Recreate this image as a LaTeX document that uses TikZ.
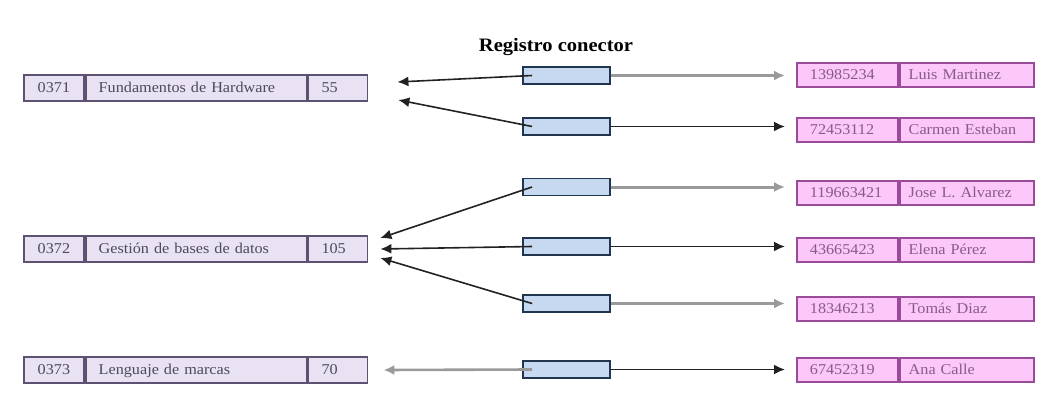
\documentclass[tikz,border=0pt]{standalone}
\usepackage{fontspec}
\setmainfont{Liberation Serif}[FakeStretch=1.08]
\usetikzlibrary{positioning,arrows.meta}

\definecolor{modfill}{HTML}{E8E2F2}
\definecolor{modline}{HTML}{5E5272}
\definecolor{modtext}{HTML}{4E4A5A}
\definecolor{alufill}{HTML}{FCC8FA}
\definecolor{aluline}{HTML}{9A4C9A}
\definecolor{alutext}{HTML}{8A5A8A}
\definecolor{confill}{HTML}{C6D9F1}
\definecolor{conline}{HTML}{1F3550}
\definecolor{grisl}{HTML}{9A9A9A}
\definecolor{grisd}{HTML}{222222}

\tikzset{
  cell/.style={draw, line width=1.8pt, minimum height=26pt, inner xsep=13pt, inner ysep=0pt,
    text height=10pt, text depth=1pt, font=\fontsize{15}{15}\selectfont, anchor=west},
  modcell/.style={cell, draw=modline, fill=modfill, text=modtext},
  alucell/.style={cell, minimum height=24pt, draw=aluline, fill=alufill, text=alutext},
  conbox/.style={draw=conline, fill=confill, line width=1.8pt, minimum width=87pt,
    minimum height=17pt, inner sep=0pt},
  toalu/.style={-{Latex[length=11pt,width=10pt]}, shorten >=11pt},
  tomod/.style={-{Latex[length=11pt,width=10pt]}, line width=1.6pt},
}

\begin{document}
\begin{tikzpicture}[x=1pt,y=-1pt]
\useasboundingbox (0,0) rectangle (1059,417);

\node[font=\bfseries\fontsize{19}{19}\selectfont] (titulo) at (556,47) {Registro conector};

% modulos
\node[modcell, text width=34pt, align=center] (cod1) at (23,88) {0371};
\node[modcell, text width=195pt, align=left, right=0pt of cod1] (nom1) {Fundamentos de Hardware};
\node[modcell, text width=33pt, align=left, right=0pt of nom1] (hrs1) {55};

\node[modcell, text width=34pt, align=center] (cod2) at (23,249) {0372};
\node[modcell, text width=195pt, align=left, right=0pt of cod2] (nom2) {Gestión de bases de datos};
\node[modcell, text width=33pt, align=left, right=0pt of nom2] (hrs2) {105};

\node[modcell, text width=34pt, align=center] (cod3) at (23,370) {0373};
\node[modcell, text width=195pt, align=left, right=0pt of cod3] (nom3) {Lenguaje de marcas};
\node[modcell, text width=33pt, align=left, right=0pt of nom3] (hrs3) {70};

% registros conectores
\node[conbox] (con1) at (566.5,75.5) {};
\node[conbox] (con2) at (566.5,126.5) {};
\node[conbox] (con3) at (566.5,187) {};
\node[conbox] (con4) at (566.5,246.5) {};
\node[conbox] (con5) at (566.5,303.5) {};
\node[conbox] (con6) at (566.5,369.5) {};

% alumnos
\node[alucell, text width=75pt, align=left] (dni1) at (796,75) {13985234};
\node[alucell, text width=116pt, inner xsep=9pt, align=left, right=0pt of dni1] (alu1) {Luis Martinez};

\node[alucell, text width=75pt, align=left] (dni2) at (796,130) {72453112};
\node[alucell, text width=116pt, inner xsep=9pt, align=left, right=0pt of dni2] (alu2) {Carmen Esteban};

\node[alucell, text width=75pt, align=left] (dni3) at (796,193) {119663421};
\node[alucell, text width=116pt, inner xsep=9pt, align=left, right=0pt of dni3] (alu3) {Jose L. Alvarez};

\node[alucell, text width=75pt, align=left] (dni4) at (796,250) {43665423};
\node[alucell, text width=116pt, inner xsep=9pt, align=left, right=0pt of dni4] (alu4) {Elena Pérez};

\node[alucell, text width=75pt, align=left] (dni5) at (796,309) {18346213};
\node[alucell, text width=116pt, inner xsep=9pt, align=left, right=0pt of dni5] (alu5) {Tomás Diaz};

\node[alucell, text width=75pt, align=left] (dni6) at (796,370) {67452319};
\node[alucell, text width=116pt, inner xsep=9pt, align=left, right=0pt of dni6] (alu6) {Ana Calle};

% flechas hacia los alumnos
\draw[toalu, draw=grisl, line width=3pt] (con1.east) -- (con1.east -| dni1.west);
\draw[toalu, draw=grisd, line width=1.8pt] (con2.east) -- (con2.east -| dni2.west);
\draw[toalu, draw=grisl, line width=3pt] (con3.east) -- (con3.east -| dni3.west);
\draw[toalu, draw=grisd, line width=1.8pt] (con4.east) -- (con4.east -| dni4.west);
\draw[toalu, draw=grisl, line width=3pt] (con5.east) -- (con5.east -| dni5.west);
\draw[toalu, draw=grisd, line width=1.8pt] (con6.east) -- (con6.east -| dni6.west);

% flechas hacia los modulos
\draw[tomod, grisd] ([xshift=10pt]con1.west) -- ([shift={(29,-6)}]hrs1.east);
\draw[tomod, grisd] ([xshift=10pt]con2.west) -- ([shift={(30,12)}]hrs1.east);
\draw[tomod, grisd] ([xshift=10pt]con3.west) -- ([shift={(12,-11)}]hrs2.east);
\draw[tomod, grisd] ([xshift=10pt]con4.west) -- ([shift={(12,0)}]hrs2.east);
\draw[tomod, grisd] ([xshift=10pt]con5.west) -- ([shift={(12,9)}]hrs2.east);
\draw[tomod, grisl, line width=2.6pt] ([xshift=10pt]con6.west) -- ([shift={(15,0)}]hrs3.east);
\end{tikzpicture}
\end{document}
